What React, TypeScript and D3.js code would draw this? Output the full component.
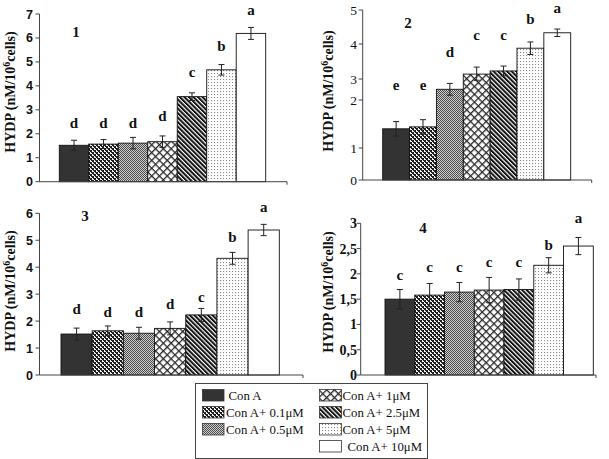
import React from "react";
import * as d3 from "d3";

const categories = ["Con A", "Con A+ 0.1μM", "Con A+ 0.5μM", "Con A+ 1μM", "Con A+ 2.5μM", "Con A+ 5μM", "Con A+ 10μM"];

const panel1Values = [1.52, 1.57, 1.61, 1.67, 3.55, 4.67, 6.19];
const panel1Errors = [0.21, 0.19, 0.24, 0.24, 0.16, 0.22, 0.25];
const panel1Letters = ["d", "d", "d", "d", "c", "b", "a"];
const panel1LetterLevels = [2.45, 2.45, 2.45, 2.74, 4.58, 5.66, 7.17];
const panel1Ticks = [0, 1, 2, 3, 4, 5, 6, 7];
const panel1TickLabels = ["0", "1", "2", "3", "4", "5", "6", "7"];

const panel2Values = [1.4, 1.44, 2.51, 3.14, 3.23, 3.88, 4.33];
const panel2Errors = [0.15, 0.15, 0.28, 0.2, 0.14, 0.18, 0.11];
const panel2Letters = ["e", "e", "d", "c", "c", "b", "a"];
const panel2LetterLevels = [2.71, 2.71, 3.77, 4.26, 4.26, 4.74, 5.07];
const panel2Ticks = [0, 1, 2, 3, 4, 5];
const panel2TickLabels = ["0", "1", "2", "3", "4", "5"];

const panel3Values = [1.52, 1.64, 1.55, 1.73, 2.23, 4.33, 5.38];
const panel3Errors = [0.22, 0.18, 0.22, 0.24, 0.24, 0.22, 0.21];
const panel3Letters = ["d", "d", "d", "d", "c", "b", "a"];
const panel3LetterLevels = [2.44, 2.35, 2.35, 2.63, 2.91, 5.13, 6.24];
const panel3Ticks = [0, 1, 2, 3, 4, 5, 6];
const panel3TickLabels = ["0", "1", "2", "3", "4", "5", "6"];

const panel4Values = [1.5, 1.58, 1.64, 1.68, 1.69, 2.17, 2.55];
const panel4Errors = [0.19, 0.23, 0.19, 0.25, 0.21, 0.15, 0.17];
const panel4Letters = ["c", "c", "c", "c", "c", "b", "a"];
const panel4LetterLevels = [1.98, 2.14, 2.14, 2.24, 2.24, 2.56, 3.1];
const panel4Ticks = [0, 0.5, 1, 1.5, 2, 2.5, 3];
const panel4TickLabels = ["0", "0,5", "1", "1,5", "2", "2,5", "3"];

const patternIds = ["p0", "p1", "p2", "p3", "p4", "p5", "p6"];

const SERIF = "'Liberation Serif', 'Times New Roman', serif";
const SANS = "'Liberation Sans', Arial, sans-serif";

const panels = [
  {
    name: "1", values: panel1Values, errors: panel1Errors, letters: panel1Letters, levels: panel1LetterLevels,
    ticks: panel1Ticks, tickLabels: panel1TickLabels,
    yDomain: [0, 7], yRange: [181.7, 14], ax0: 39.5, ax1: 287, bx0: 59.3, bx1: 265.7,
    tickFont: SANS, tickWeight: "bold", tickSize: 12.5, tickX: 33,
    labelPos: [76, 32], titlePos: [10, 92],
  },
  {
    name: "2", values: panel2Values, errors: panel2Errors, letters: panel2Letters, levels: panel2LetterLevels,
    ticks: panel2Ticks, tickLabels: panel2TickLabels,
    yDomain: [0, 1, 2, 3, 4, 5], yRange: [180, 148, 100, 79, 44, 10], ax0: 362.7, ax1: 591.7, bx0: 382.7, bx1: 570.7,
    tickFont: SERIF, tickWeight: "normal", tickSize: 13.5, tickX: 357,
    labelPos: [408, 23], titlePos: [328, 91],
  },
  {
    name: "3", values: panel3Values, errors: panel3Errors, letters: panel3Letters, levels: panel3LetterLevels,
    ticks: panel3Ticks, tickLabels: panel3TickLabels,
    yDomain: [0, 6], yRange: [375, 213.3], ax0: 39.5, ax1: 303, bx0: 61, bx1: 279.3,
    tickFont: SANS, tickWeight: "bold", tickSize: 12.5, tickX: 33,
    labelPos: [85, 216], titlePos: [10, 291],
  },
  {
    name: "4", values: panel4Values, errors: panel4Errors, letters: panel4Letters, levels: panel4LetterLevels,
    ticks: panel4Ticks, tickLabels: panel4TickLabels,
    yDomain: [0, 3], yRange: [375, 223.3], ax0: 360.7, ax1: 596, bx0: 385, bx1: 593.3,
    tickFont: SERIF, tickWeight: "bold", tickSize: 14, tickX: 357,
    labelPos: [423, 228], titlePos: [328, 292],
  },
];

function Patterns() {
  return (
    <defs>
      <pattern id="p0" width="4" height="4" patternUnits="userSpaceOnUse">
        <rect width="4" height="4" fill="#333" />
      </pattern>
      <pattern id="p1" width="4" height="4" patternUnits="userSpaceOnUse">
        <rect width="4" height="4" fill="#f4f4f4" />
        <rect x="0" y="0" width="2" height="2" fill="#1e1e1e" />
        <rect x="2" y="2" width="2" height="2" fill="#1e1e1e" />
        <rect x="1" y="2" width="1" height="1" fill="#1e1e1e" />
        <rect x="3" y="0" width="1" height="1" fill="#1e1e1e" />
      </pattern>
      <pattern id="p2" width="2" height="2" patternUnits="userSpaceOnUse">
        <rect width="2" height="2" fill="#cfcfcf" />
        <rect x="0" y="0" width="1" height="1" fill="#4a4a4a" />
        <rect x="1" y="1" width="1" height="1" fill="#4a4a4a" />
      </pattern>
      <pattern id="p3" width="5.5" height="5.5" patternUnits="userSpaceOnUse" patternTransform="rotate(45)">
        <rect width="5.5" height="5.5" fill="#fff" />
        <rect x="0" y="0" width="5.5" height="1.3" fill="#2a2a2a" />
        <rect x="0" y="0" width="1.3" height="5.5" fill="#2a2a2a" />
      </pattern>
      <pattern id="p4" width="3.2" height="3.2" patternUnits="userSpaceOnUse" patternTransform="rotate(-45)">
        <rect width="3.2" height="3.2" fill="#fff" />
        <rect x="0" y="0" width="2" height="3.2" fill="#111" />
      </pattern>
      <pattern id="p5" width="3" height="3" patternUnits="userSpaceOnUse">
        <rect width="3" height="3" fill="#fff" />
        <rect x="1" y="1" width="1.1" height="1.1" fill="#8a8a8a" />
      </pattern>
      <pattern id="p6" width="4" height="4" patternUnits="userSpaceOnUse">
        <rect width="4" height="4" fill="#fff" />
      </pattern>
    </defs>
  );
}

function Panel({ cfg }: { cfg: any }) {
  const x = d3.scaleBand<string>().domain(categories).range([cfg.bx0, cfg.bx1]).paddingInner(0).paddingOuter(0);
  const y = d3.scaleLinear().domain(cfg.yDomain).range(cfg.yRange);
  const y0 = y(0);
  const yTop = y(cfg.ticks[cfg.ticks.length - 1]);
  const bw = x.bandwidth();
  return (
    <g>
      {categories.map((c, i) => {
        const v = cfg.values[i];
        return (
          <rect key={c} x={x(c)} y={y(v)} width={bw} height={y0 - y(v)}
            fill={`url(#${patternIds[i]})`} stroke="#111" strokeWidth={0.9} />
        );
      })}
      {categories.map((c, i) => {
        const v = cfg.values[i];
        const e = cfg.errors[i];
        const cx = (x(c) as number) + bw / 2;
        return (
          <g key={c} stroke="#222" strokeWidth={1}>
            <line x1={cx} x2={cx} y1={y(v - e)} y2={y(v + e)} />
            <line x1={cx - 3} x2={cx + 3} y1={y(v - e)} y2={y(v - e)} />
            <line x1={cx - 3} x2={cx + 3} y1={y(v + e)} y2={y(v + e)} />
          </g>
        );
      })}
      {categories.map((c, i) => {
        const cx = (x(c) as number) + bw / 2;
        return (
          <text key={c} x={cx} y={y(cfg.levels[i])} dy="0.33em" textAnchor="middle"
            fontFamily={SERIF} fontWeight="bold" fontSize={15} fill="#111">
            {cfg.letters[i]}
          </text>
        );
      })}
      <line x1={cfg.ax0} x2={cfg.ax0} y1={y0} y2={yTop} stroke="#444" strokeWidth={1} />
      <line x1={cfg.ax0} x2={cfg.ax1} y1={y0} y2={y0} stroke="#444" strokeWidth={1} />
      <line x1={cfg.ax1} x2={cfg.ax1} y1={y0} y2={y0 + 3} stroke="#444" strokeWidth={1} />
      {cfg.ticks.map((t: number, i: number) => (
        <g key={t}>
          <line x1={cfg.ax0 - 4} x2={cfg.ax0} y1={y(t)} y2={y(t)} stroke="#444" strokeWidth={1} />
          <text x={cfg.tickX} y={y(t)} dy="0.36em" textAnchor="end" fontFamily={cfg.tickFont}
            fontWeight={cfg.tickWeight} fontSize={cfg.tickSize} fill="#111">
            {cfg.tickLabels[i]}
          </text>
        </g>
      ))}
      <text x={cfg.labelPos[0]} y={cfg.labelPos[1]} dy="0.36em" textAnchor="middle"
        fontFamily={SERIF} fontWeight="bold" fontSize={15} fill="#111">
        {cfg.name}
      </text>
      <text transform={`translate(${cfg.titlePos[0]},${cfg.titlePos[1]}) rotate(-90)`} dy="0.36em"
        textAnchor="middle" fontFamily={SERIF} fontWeight="bold" fontSize={14} fill="#111">
        HYDP (nM/10<tspan fontSize={10} dy="-5">6</tspan><tspan dy="5">cells)</tspan>
      </text>
    </g>
  );
}

const legendLeft = [0, 1, 2];
const legendRight = [3, 4, 5, 6];

function Legend() {
  const rowY = [389.5, 406.5, 423.5, 440.5];
  return (
    <g>
      <rect x={195.5} y={383.5} width={232} height={75} fill="#fff" stroke="#444" strokeWidth={1} />
      {legendLeft.map((ci, r) => (
        <g key={ci}>
          <rect x={202.5} y={rowY[r]} width={21.5} height={11.5} fill={`url(#${patternIds[ci]})`} stroke="#333" strokeWidth={0.8} />
          <text x={ci === 0 ? 228.5 : 226} y={rowY[r] + 10.5} fontFamily={SERIF} fontSize={12.8} fill="#111">
            {categories[ci]}
          </text>
        </g>
      ))}
      {legendRight.map((ci, r) => (
        <g key={ci}>
          <rect x={319.5} y={rowY[r]} width={22} height={11.5} fill={`url(#${patternIds[ci]})`} stroke="#333" strokeWidth={0.8} />
          <text x={ci === 6 ? 347.5 : 342.5} y={rowY[r] + 10.5} fontFamily={SERIF} fontSize={12.8} fill="#111">
            {categories[ci]}
          </text>
        </g>
      ))}
    </g>
  );
}

export default function App() {
  return (
    <svg width={609} height={459} viewBox="0 0 609 459"
      style={{ position: "absolute", left: 0, top: 0, background: "#fff" }}>
      <Patterns />
      <rect width={609} height={459} fill="#fff" />
      {panels.map((p) => (
        <Panel key={p.name} cfg={p} />
      ))}
      <Legend />
    </svg>
  );
}
